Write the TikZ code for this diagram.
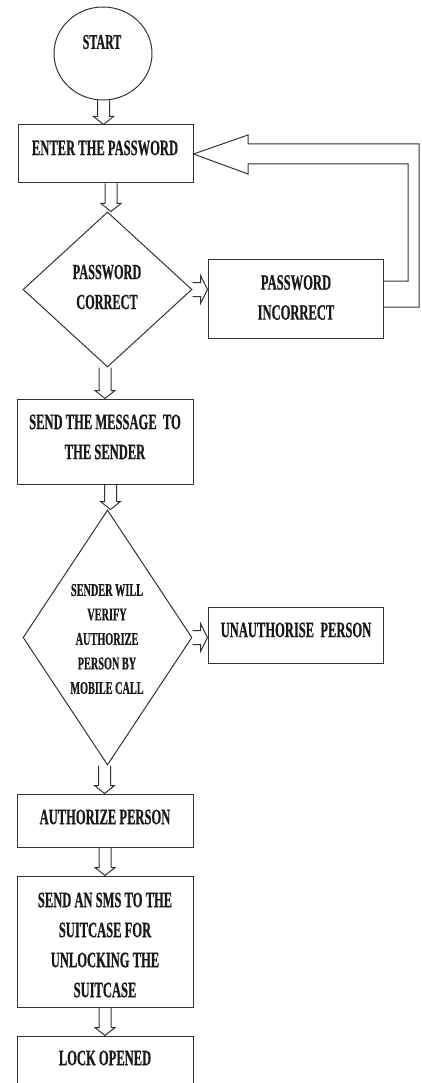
\documentclass[tikz,border=0pt]{standalone}
\usepackage{fontspec}
\setmainfont{Liberation Serif}[FakeStretch=0.57, BoldFeatures={FakeBold=0.6}]
\usetikzlibrary{shapes.geometric,calc}
\tikzset{
  outl/.style={draw=black!80, line width=1pt, inner sep=0pt},
  boxnode/.style={outl, rectangle},
  dia/.style={outl, diamond, minimum width=169pt},
  txt/.style={font=\bfseries\fontsize{22}{30}\selectfont, align=center, inner sep=0pt, text=black!90},
  blk/.style={draw=black!80, line width=1pt, line join=miter},
}
\newcommand\blockdown[3][0]{%
  \draw[blk] let \p1=($(#2.south)+(#1,0)$), \p2=(#3.north) in
    (\x1-6pt,\y1) -- (\x1-6pt,\y2+8pt) -- (\x1-10pt,\y2+8pt) -- (\x1,\y2)
    -- (\x1+10pt,\y2+8pt) -- (\x1+6pt,\y2+8pt) -- (\x1+6pt,\y1);
}
\newcommand\blockright[2]{%
  \draw[blk] let \p1=(#1.east), \p2=(#2.west) in
    (\x1,\y1+7pt) -- (\x2-7pt,\y1+7pt) -- (\x2-7pt,\y1+14pt) -- (\x2,\y1)
    -- (\x2-7pt,\y1-14pt) -- (\x2-7pt,\y1-7pt) -- (\x1,\y1-7pt);
}
\begin{document}
\begin{tikzpicture}[x=1pt,y=-1pt]
\useasboundingbox (0,0) rectangle (422,1083);
\clip (0,0) rectangle (422,1083);

% shapes
\node[outl, ellipse, minimum width=98pt, minimum height=93pt] (start) at (103,53.5) {};
\node[boxnode, minimum width=175pt, minimum height=58pt] (enter) at (105.5,154) {};
\node[dia, minimum height=155pt] (d1) at (107.5,289.5) {};
\node[boxnode, minimum width=175pt, minimum height=79pt] (inc) at (295.5,298.5) {};
\node[boxnode, minimum width=176pt, minimum height=85pt] (send) at (105,441.5) {};
\node[dia, minimum height=255pt] (d2) at (107.5,637.5) {};
\node[boxnode, minimum width=175pt, minimum height=56pt] (unauth) at (295.5,635) {};
\node[boxnode, minimum width=176pt, minimum height=53pt] (auth) at (105,820.5) {};
\node[boxnode, minimum width=176pt, minimum height=131pt] (sms) at (105,941.5) {};
\node[boxnode, minimum width=176pt, minimum height=64pt] (lock) at (105,1068) {};

% texts
\node[txt, font=\bfseries\fontsize{21}{24}\selectfont] (tstart) at (102,42) {START};
\node[txt] (tenter) at (105,148) {ENTER THE PASSWORD};
\node[txt, font=\bfseries\fontsize{21.5}{30}\selectfont] (tpc) at (107,287) {PASSWORD\\CORRECT};
\node[txt] (tinc) at (296,297.5) {PASSWORD\\INCORRECT};
\node[txt] (tsend) at (105,437) {SEND THE MESSAGE\ \ TO\\THE SENDER};
\node[txt, font=\bfseries\fontsize{18}{24.5}\selectfont] (tver) at (107,639) {SENDER WILL\\VERIFY\\AUTHORIZE\\PERSON BY\\MOBILE CALL};
\node[txt] (tun) at (296,630) {UNAUTHORISE\ \ PERSON};
\node[txt] (tauth) at (105,817) {AUTHORIZE PERSON};
\node[txt] (tsms) at (105,945) {SEND AN SMS TO THE\\SUITCASE FOR\\UNLOCKING THE\\SUITCASE};
\node[txt] (tlock) at (105,1058) {LOCK OPENED};

% down block arrows
\blockdown[0.5]{start}{enter}
\blockdown[5.5]{enter}{d1}
\blockdown[-2.5]{d1}{send}
\blockdown[5.5]{send}{d2}
\blockdown[-3]{d2}{auth}
\blockdown{auth}{sms}
\blockdown{sms}{lock}

% right block arrows
\blockright{d1}{inc}
\blockright{d2}{unauth}

% feedback pipe
\draw[blk] ($(inc.east)+(0,-17.5)$) -- (408,281) -- (408,164) -- (248,164) -- (248,174)
  -- (enter.east) -- (248,135) -- (248,144) -- (419,144) -- (419,307)
  -- ($(inc.east)+(0,8.5)$);
\end{tikzpicture}
\end{document}
